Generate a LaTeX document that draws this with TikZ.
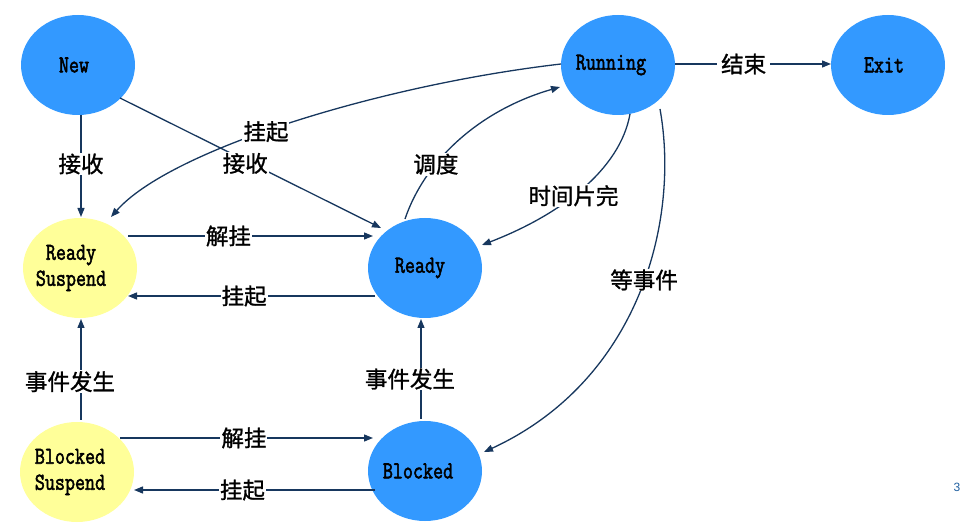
\documentclass[tikz,border=0pt]{standalone}
\usepackage{fontspec}
\setmainfont{Liberation Serif}
\newfontfamily\cjkf{Noto Sans CJK SC}[FakeBold=1.2]
\newfontfamily\monof{Latin Modern Mono}[FakeBold=2.4]
\usetikzlibrary{shapes.geometric,arrows.meta}
\definecolor{stblue}{RGB}{51,153,255}
\definecolor{styellow}{RGB}{255,255,153}
\definecolor{edgec}{RGB}{23,55,94}
\definecolor{pagec}{RGB}{31,95,160}
\newcommand\nodetxt[2][10pt]{\makebox[0pt][c]{\scalebox{1}[1.25]{#2}\hspace*{#1}}}
\tikzset{
  state/.style={ellipse, fill=stblue, draw=none, minimum width=114pt, minimum height=100pt, inner sep=0pt,
    font=\monof\fontsize{19.5}{26}\selectfont, align=center},
  suspstate/.style={state, fill=styellow},
  trans/.style={draw=edgec, line width=1.3pt, -{Triangle[length=9pt,width=7pt]}},
  lbl/.style={fill=white, inner sep=1pt, font=\cjkf\fontsize{22.5}{24}\selectfont, text=black}
}
\begin{document}
\begin{tikzpicture}[x=1pt,y=-1pt]
\useasboundingbox (0,0) rectangle (962,529);
\node[state] (new) at (78,65) {\nodetxt[8pt]{New}};
\node[state] (run) at (618,65) {\nodetxt[14pt]{Running}};
\node[state] (exit) at (888,65) {\nodetxt[8pt]{Exit}};
\node[suspstate] (rs) at (80,268) {\nodetxt[18pt]{Ready}\\[0pt]\nodetxt[18pt]{Suspend}};
\node[state] (ready) at (425,268) {\nodetxt[10pt]{Ready}};
\node[suspstate] (bs) at (77,472) {\nodetxt[14pt]{Blocked}\\[0pt]\nodetxt[14pt]{Suspend}};
\node[state] (blk) at (425,471) {\nodetxt[14pt]{Blocked}};

\coordinate (newb) at (81,115);
\coordinate (rst) at (81,217);
\draw[trans] (newb) -- node[lbl, pos=0.48] {接收} (rst);
\coordinate (newr) at (120,98);
\coordinate (readytl) at (381,228);
\draw[trans] (newr) -- node[lbl, pos=0.48, yshift=-3pt] {接收} (readytl);

\coordinate (runl) at (561,64);
\coordinate (rstr) at (111,217);
\draw[trans] (runl) .. controls (380,85) and (170,150) .. node[lbl, pos=0.55] {挂起} (rstr);

\coordinate (readyt) at (405,219);
\coordinate (runbl) at (560,87);
\draw[trans] (readyt) .. controls (425,160) and (480,110) .. node[lbl, pos=0.33] {调度} (runbl);

\coordinate (runb) at (630,114);
\coordinate (readyr) at (482,245);
\draw[trans] (runb) .. controls (620,170) and (560,215) .. node[lbl, pos=0.55] {时间片完} (readyr);

\coordinate (runbr) at (660,109);
\coordinate (blkr) at (484,452);
\draw[trans] (runbr) .. controls (680,220) and (640,380) .. node[lbl, pos=0.46] {等事件} (blkr);

\coordinate (runr) at (675,64);
\coordinate (exitl) at (831,64);
\draw[trans] (runr) -- node[lbl, pos=0.44, inner xsep=4pt] {结束} (exitl);

\coordinate (rsr1) at (128,236);
\coordinate (readyl1) at (373,236);
\draw[trans] (rsr1) -- node[lbl, pos=0.41] {解挂} (readyl1);
\coordinate (readyl2) at (375,296);
\coordinate (rsr2) at (128,296);
\draw[trans] (readyl2) -- node[lbl, pos=0.53] {挂起} (rsr2);

\coordinate (bst) at (81,420);
\coordinate (rsb) at (81,319);
\draw[trans] (bst) -- node[lbl, pos=0.38, xshift=-11pt] {事件发生} (rsb);
\coordinate (blkt) at (421,419);
\coordinate (readyb) at (421,319);
\draw[trans] (blkt) -- node[lbl, pos=0.4, xshift=-11pt] {事件发生} (readyb);

\coordinate (bsr1) at (120,438);
\coordinate (blkl1) at (373,438);
\draw[trans] (bsr1) -- node[lbl, pos=0.49] {解挂} (blkl1);
\coordinate (blkl2) at (375,490);
\coordinate (bsr2) at (134,490);
\draw[trans] (blkl2) -- node[lbl, pos=0.55] {挂起} (bsr2);

\node[font=\fontspec{Liberation Sans}\fontsize{12}{14}\selectfont, text=pagec] (pg) at (957,487) {3};
\end{tikzpicture}
\end{document}
